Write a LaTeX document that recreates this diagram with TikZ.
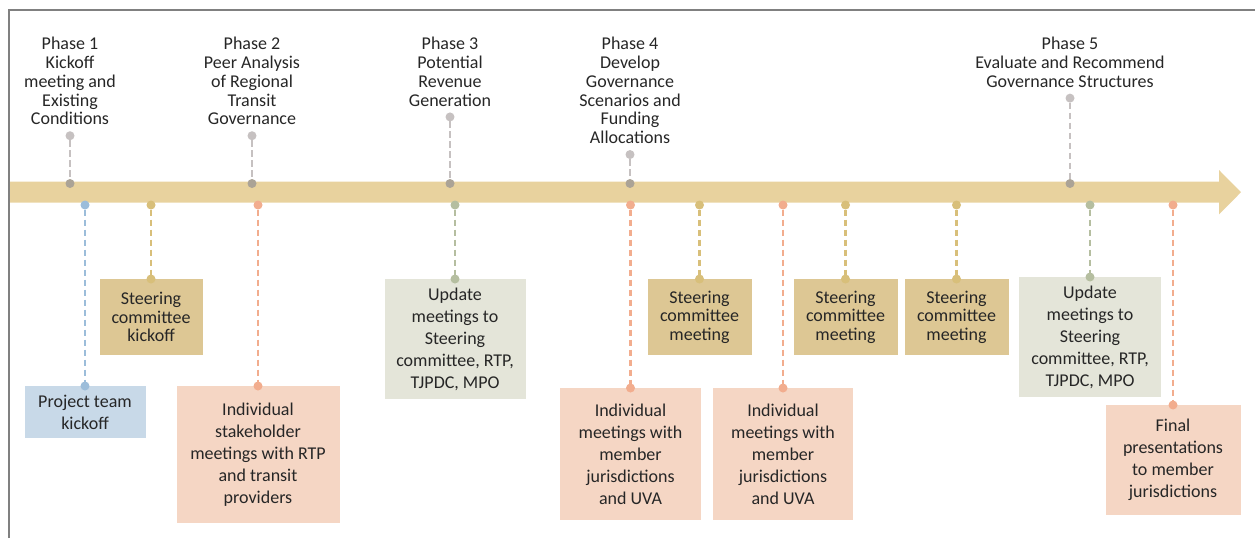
\documentclass[tikz,border=0pt]{standalone}
\usepackage{fontspec}
\setmainfont{Carlito}

\definecolor{framegray}{HTML}{808080}
\definecolor{band}{HTML}{E8D29E}
\definecolor{phasegray}{HTML}{C6C1C1}
\definecolor{phasedot}{HTML}{ABA396}
\definecolor{team}{HTML}{C8D9E8}
\definecolor{teamdark}{HTML}{9CBDDA}
\definecolor{steer}{HTML}{DDC794}
\definecolor{steerdark}{HTML}{D8BF7A}
\definecolor{meet}{HTML}{F5D6C4}
\definecolor{meetdark}{HTML}{F2AD8E}
\definecolor{upd}{HTML}{E4E5D9}
\definecolor{upddark}{HTML}{B5BEA0}

\begin{document}
\begin{tikzpicture}[
    x = 1pt, y = -1pt,
    font = \fontsize{18}{18.8}\selectfont,
    text = black!85,
    dot/.style = {
      circle, fill = #1,
      minimum size = 9pt,
      inner sep = 0, outer sep = 0,
    },
    link/.style = {
      #1, line width = 2.6pt,
      dash pattern = on 6.5pt off 3.5pt,
    },
    box/.style = {
      fill = #1, anchor = north, align = center,
      inner sep = 0, outer sep = 0,
    },
  ]
  \useasboundingbox (0,0) rectangle (1255,538);

  \fill[band] (10,181.7) -- (1219,181.7) -- (1219,170) -- (1241,192.2)
    -- (1219,214.4) -- (1219,202.7) -- (10,202.7) -- cycle;
  \draw[framegray, line width = 2pt] (9,538) -- (9,10) -- (1255,10);

  \foreach \n/\px/\desc in {
    1/70/Phase 1\\Kickoff\\meeting and\\Existing\\Conditions,
    2/252/Phase 2\\Peer Analysis\\of Regional\\Transit\\Governance,
    3/450/Phase 3\\Potential\\Revenue\\Generation,
    4/630/Phase 4\\Develop\\Governance\\Scenarios and\\Funding\\Allocations,
    5/1070/Phase 5\\Evaluate and Recommend\\Governance Structures}{
    \node[
      anchor = north,
      align = center,
      inner sep = 0,
    ] (phase\n) at (\px,37) {\desc};
    \node[dot = phasegray] (top\n) at ([yshift = -10.5pt]phase\n.south) {};
    \node[dot = phasedot] (on\n) at (\px,183.5) {};
    \draw[link = phasegray] (top\n) -- (on\n);
  }

  \foreach \n/\px/\py/\w/\h/\lead/\kind/\desc in {
    1/85/386/121/52/22/team/Project team\\kickoff,
    2/151/279/103/76/18.5/steer/Steering\\committee\\kickoff,
    3/258/386/163/137/22/meet/Individual\\stakeholder\\meetings with RTP\\and transit\\providers,
    4/455/279/141/120/22/upd/{Update\\meetings to\\Steering\\committee, RTP,\\TJPDC, MPO},
    5/630.5/388/141/132/22/meet/Individual\\meetings with\\member\\jurisdictions\\and UVA,
    6/699.5/279/104/76/18.5/steer/Steering\\committee\\meeting,
    7/783/388/140/132/22/meet/Individual\\meetings with\\member\\jurisdictions\\and UVA,
    8/845.5/279/104/76/18.5/steer/Steering\\committee\\meeting,
    9/956.5/279/104/76/18.5/steer/Steering\\committee\\meeting,
    10/1090/277/142/120/22/upd/{Update\\meetings to\\Steering\\committee, RTP,\\TJPDC, MPO},
    11/1173/405/135/110/22/meet/Final\\presentations\\to member\\jurisdictions}{
    \node[
      box = \kind,
      minimum width = \w,
      minimum height = \h,
      font = \fontsize{18}{\lead}\selectfont,
    ] (event\n) at (\px,\py) {\desc};
    \node[dot = \kind dark] (mark\n) at (\px,205) {};
    \node[dot = \kind dark] (end\n) at (event\n.north) {};
    \draw[link = \kind dark] (mark\n) -- (end\n);
  }
\end{tikzpicture}
\end{document}
